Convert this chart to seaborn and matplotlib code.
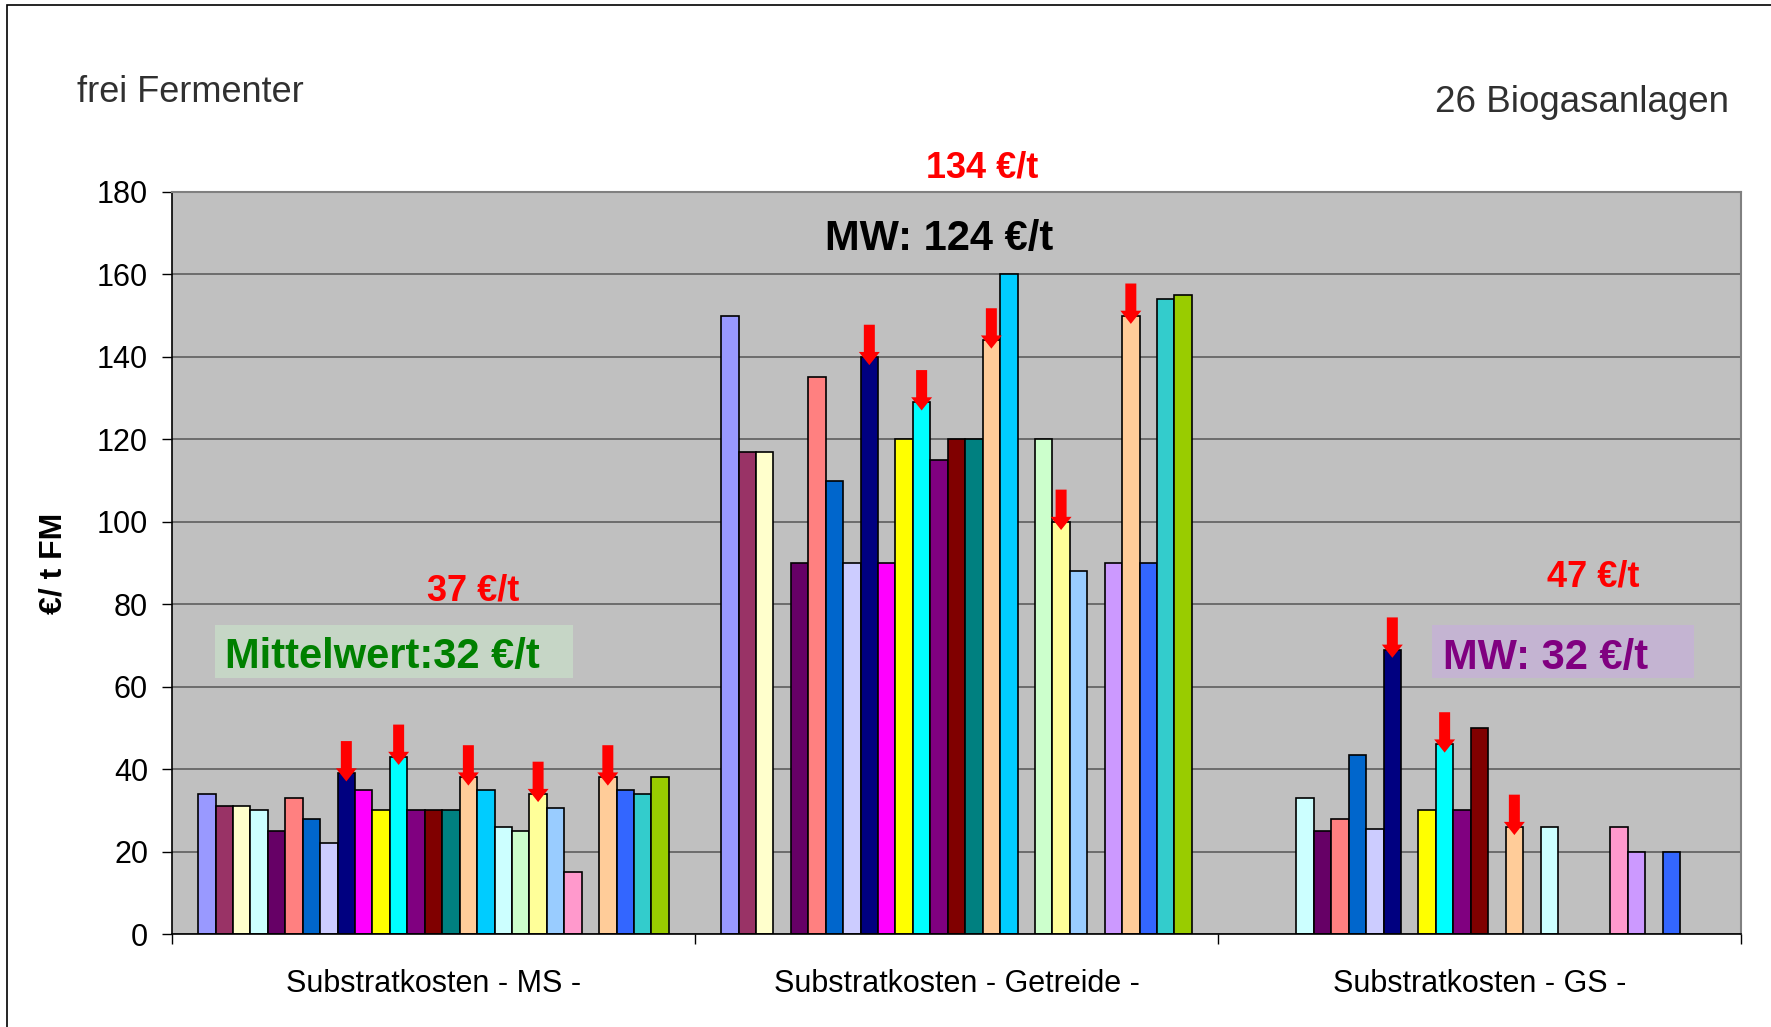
import numpy as np
import pandas as pd
import matplotlib
matplotlib.use("Agg")
import matplotlib.pyplot as plt
from matplotlib.patches import Rectangle, FancyArrow
import seaborn as sns

# ---------------------------------------------------------------- data
categories = ["Substratkosten - MS -", "Substratkosten - Getreide -", "Substratkosten - GS -"]
plants = [f"Anlage {i}" for i in range(1, 28)]
nan = np.nan

# substrate costs in EUR per t fresh matter, one entry per plant
cost_ms = [34, 31, 31, 30, 25, 33, 28, 22, 39, 35, 30, 43, 30, 30, 30, 38,
           35, 26, 25, 34, 30.5, 15, nan, 38, 35, 34, 38]
cost_getreide = [150, 117, 117, nan, 90, 135, 110, 90, 140, 90, 120, 129, 115, 120,
                 120, 144, 160, nan, 120, 100, 88, nan, 90, 150, 90, 154, 155]
cost_gs = [nan, nan, nan, 33, 25, 28, 43.5, 25.5, 69, nan, 30, 46, 30, 50, nan, 26,
           nan, 26, nan, nan, nan, 26, 20, nan, 20, nan, nan]

plant_colors = ["#9999FF", "#993366", "#FFFFCC", "#CCFFFF", "#660066", "#FF8080",
                "#0066CC", "#CCCCFF", "#000080", "#FF00FF", "#FFFF00", "#00FFFF",
                "#800080", "#800000", "#008080", "#FFCC99", "#00CCFF", "#CCFFFF",
                "#CCFFCC", "#FFFF99", "#99CCFF", "#FF99CC", "#CC99FF", "#FFCC99",
                "#3366FF", "#33CCCC", "#99CC00"]

# plants (1-based) highlighted with an arrow in each substrate group
marked_ms = [9, 12, 16, 20, 24]
marked_getreide = [9, 12, 16, 20, 24]
marked_gs = [9, 12, 16]

mean_labels = ["Mittelwert:32 €/t", "MW: 124 €/t", "MW: 32 €/t"]
marked_mean_labels = ["37 €/t", "134 €/t", "47 €/t"]
y_ticks = [0, 20, 40, 60, 80, 100, 120, 140, 160, 180]

# ---------------------------------------------------------------- table
rows = []
for cat, vals in zip(categories, [cost_ms, cost_getreide, cost_gs]):
    for plant, v in zip(plants, vals):
        rows.append({"Kategorie": cat, "Anlage": plant, "Kosten": v})
df = pd.DataFrame(rows).dropna()

# ---------------------------------------------------------------- figure
W, H = 1771, 1027
fig = plt.figure(figsize=(W / 100, H / 100), dpi=100)
plt.rcParams["font.family"] = ["Liberation Sans", "DejaVu Sans"]

ax = fig.add_axes([172 / W, (H - 934) / H, (1741 - 172) / W, (934 - 192) / H])
ax.set_facecolor("#C0C0C0")

bar_width = 0.9
sns.barplot(data=df, x="Kategorie", y="Kosten", hue="Anlage",
            order=categories, hue_order=plants, palette=plant_colors,
            width=bar_width, saturation=1, errorbar=None,
            edgecolor="black", linewidth=1.2, legend=False, ax=ax)

ax.set_xlim(-0.5, 2.5)
ax.set_ylim(0, 180)
ax.set_yticks(y_ticks)
ax.set_axisbelow(True)
ax.yaxis.grid(True, color="#555555", linewidth=1.1)
ax.xaxis.grid(False)

ax.tick_params(axis="y", direction="out", length=7.2, width=1.0, pad=10,
               labelsize=22, colors="black")
ax.tick_params(axis="x", which="major", length=0, pad=25, labelsize=22)
ax.set_xticks([-0.5, 0.5, 1.5, 2.5], minor=True)
ax.tick_params(axis="x", which="minor", direction="out", length=7.2, width=1.0)
ax.set_xlabel("")
ax.set_ylabel("€/ t FM", fontsize=23, fontweight="bold")
ax.yaxis.set_label_coords(-0.066, 0.5)

for side in ("top", "right"):
    ax.spines[side].set_color("#808080")
    ax.spines[side].set_linewidth(1.5)
for side in ("left", "bottom"):
    ax.spines[side].set_color("black")
    ax.spines[side].set_linewidth(1.2)

# ---------------------------------------------------------------- arrows on the marked plants
n_plants = len(plants)
drawn = {}
for p in ax.patches:
    h = p.get_height()
    if not np.isfinite(h) or h <= 0:
        continue
    cx = p.get_x() + p.get_width() / 2
    ci = int(round(cx))
    slot = int(round((cx - ci + bar_width / 2) / (bar_width / n_plants) - 0.5))
    drawn[(ci, slot)] = (cx, h)

arrow_len = 9.8
for ci, marked in enumerate([marked_ms, marked_getreide, marked_gs]):
    for plant_no in marked:
        cx, h = drawn[(ci, plant_no - 1)]
        tip = h - 2.0
        ax.add_patch(FancyArrow(cx, tip + arrow_len, 0, -arrow_len,
                                width=0.021, head_width=0.04, head_length=3.2,
                                length_includes_head=True, color="red",
                                linewidth=0, zorder=5))

# ---------------------------------------------------------------- mean annotations
ax.add_patch(Rectangle((-0.418, 62.1), 0.685, 12.9, facecolor="#C6D6C6",
                       edgecolor="none", zorder=4))
ax.text(-0.399, 64.5, mean_labels[0], fontsize=30, fontweight="bold",
        color="#008000", ha="left", va="baseline", zorder=6)

ax.text(0.967, 165.9, mean_labels[1], fontsize=30, fontweight="bold",
        color="black", ha="center", va="baseline", zorder=6)

ax.add_patch(Rectangle((1.91, 62.0), 0.50, 13.0, facecolor="#C4B4D2",
                       edgecolor="none", zorder=4))
ax.text(1.93, 64.2, mean_labels[2], fontsize=30, fontweight="bold",
        color="#800080", ha="left", va="baseline", zorder=6)

for (x, y), lab in zip([(0.076, 80.9), (1.05, 183.4), (2.217, 84.4)], marked_mean_labels):
    ax.text(x, y, lab, fontsize=26, fontweight="bold", color="red",
            ha="center", va="baseline", zorder=6, clip_on=False)

# ---------------------------------------------------------------- header texts and frame
fig.text(77 / W, 1 - 102 / H, "frei Fermenter", fontsize=26, color="#303030",
         ha="left", va="baseline")
fig.text(1729 / W, 1 - 112 / H, "26 Biogasanlagen", fontsize=26.5, color="#303030",
         ha="right", va="baseline")
fig.add_artist(Rectangle((7 / W, -0.1), 1.2, 1.1 - 5 / H, transform=fig.transFigure,
                         fill=False, edgecolor="black", linewidth=1.2))

fig.savefig("out.png", dpi=100)
